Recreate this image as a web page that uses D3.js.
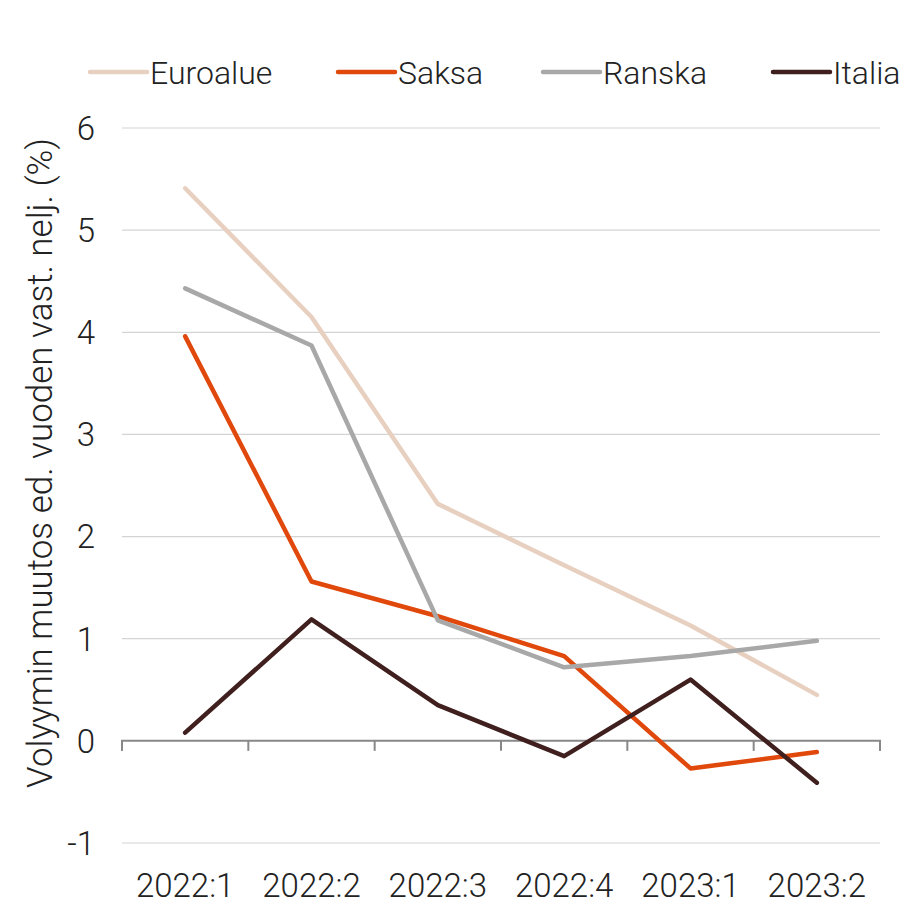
<!DOCTYPE html>
<html><head><meta charset="utf-8">
<script src="https://cdn.jsdelivr.net/npm/d3@7"></script>
<style>body{margin:0;background:#fff;} text{font-family:Roboto,"Noto Sans",sans-serif;font-weight:300;fill:#222;}</style>
</head><body><svg id="c" width="918" height="904"></svg>
<script>
const categories = ["2022:1","2022:2","2022:3","2022:4","2023:1","2023:2"];
const seriesNames = ["Euroalue","Saksa","Ranska","Italia"];
const euroalue = [5.41, 4.15, 2.32, 1.72, 1.13, 0.45];
const saksa = [3.96, 1.56, 1.22, 0.83, -0.27, -0.11];
const ranska = [4.43, 3.87, 1.18, 0.72, 0.83, 0.98];
const italia = [0.08, 1.19, 0.35, -0.15, 0.60, -0.41];
const yTicks = [-1, 0, 1, 2, 3, 4, 5, 6];
const colors = ["#e8d0c0", "#e0480c", "#a8a8a8", "#40201f"];
const yTitle = "Volyymin muutos ed. vuoden vast. nelj. (%)";

const series = [euroalue, saksa, ranska, italia];
const svg = d3.select("#c");
const x = d3.scaleBand().domain(categories).range([122, 880]);
const y = d3.scaleLinear().domain([-1, 6]).range([843, 128]);

svg.append("g").selectAll("line").data(yTicks.filter(d => d !== 0)).join("line")
  .attr("x1", 122).attr("x2", 880).attr("y1", d => y(d)).attr("y2", d => y(d))
  .attr("stroke", "#d4d4d4").attr("stroke-width", 1.2);

svg.append("g").selectAll("text").data(yTicks).join("text")
  .attr("x", 95).attr("y", d => y(d)).attr("dy", "0.36em").attr("text-anchor", "end")
  .attr("font-size", 33).text(d => d);

const xAxis = d3.axisBottom(x).tickSize(10).tickFormat("");
const gx = svg.append("g").attr("transform", `translate(0,${y(0)})`).call(xAxis);
gx.select(".domain").attr("stroke", "#888").attr("stroke-width", 2).attr("d", `M122,10V0H880V10`);
gx.selectAll(".tick").remove();
const edges = d3.range(categories.length + 1).map(i => 122 + i * x.step());
gx.selectAll("line.edge").data(edges).join("line").attr("class","edge")
  .attr("x1", d => d).attr("x2", d => d).attr("y1", 0).attr("y2", 10)
  .attr("stroke", "#888").attr("stroke-width", 2);

svg.append("g").selectAll("text").data(categories).join("text")
  .attr("x", d => x(d) + x.bandwidth() / 2).attr("y", 897).attr("text-anchor", "middle")
  .attr("font-size", 33).text(d => d);

const line = d3.line().x((d, i) => x(categories[i]) + x.bandwidth() / 2).y(d => y(d));
svg.append("g").selectAll("path").data(series).join("path")
  .attr("d", d => line(d)).attr("fill", "none")
  .attr("stroke", (d, i) => colors[i]).attr("stroke-width", 4.5)
  .attr("stroke-linecap", "round").attr("stroke-linejoin", "round");

const legX = [90, 338, 543, 773];
const lg = svg.append("g").selectAll("g").data(seriesNames).join("g")
  .attr("transform", (d, i) => `translate(${legX[i]},72)`);
lg.append("line").attr("x1", 0).attr("x2", 57).attr("y1", 0).attr("y2", 0)
  .attr("stroke", (d, i) => colors[i]).attr("stroke-width", 4.5).attr("stroke-linecap", "round");
lg.append("text").attr("x", 60).attr("y", 0).attr("dy", "0.36em").attr("font-size", 32).text(d => d);

svg.append("text").attr("transform", `translate(52,463) rotate(-90)`)
  .attr("text-anchor", "middle").attr("font-size", 35).text(yTitle);
</script></body></html>
